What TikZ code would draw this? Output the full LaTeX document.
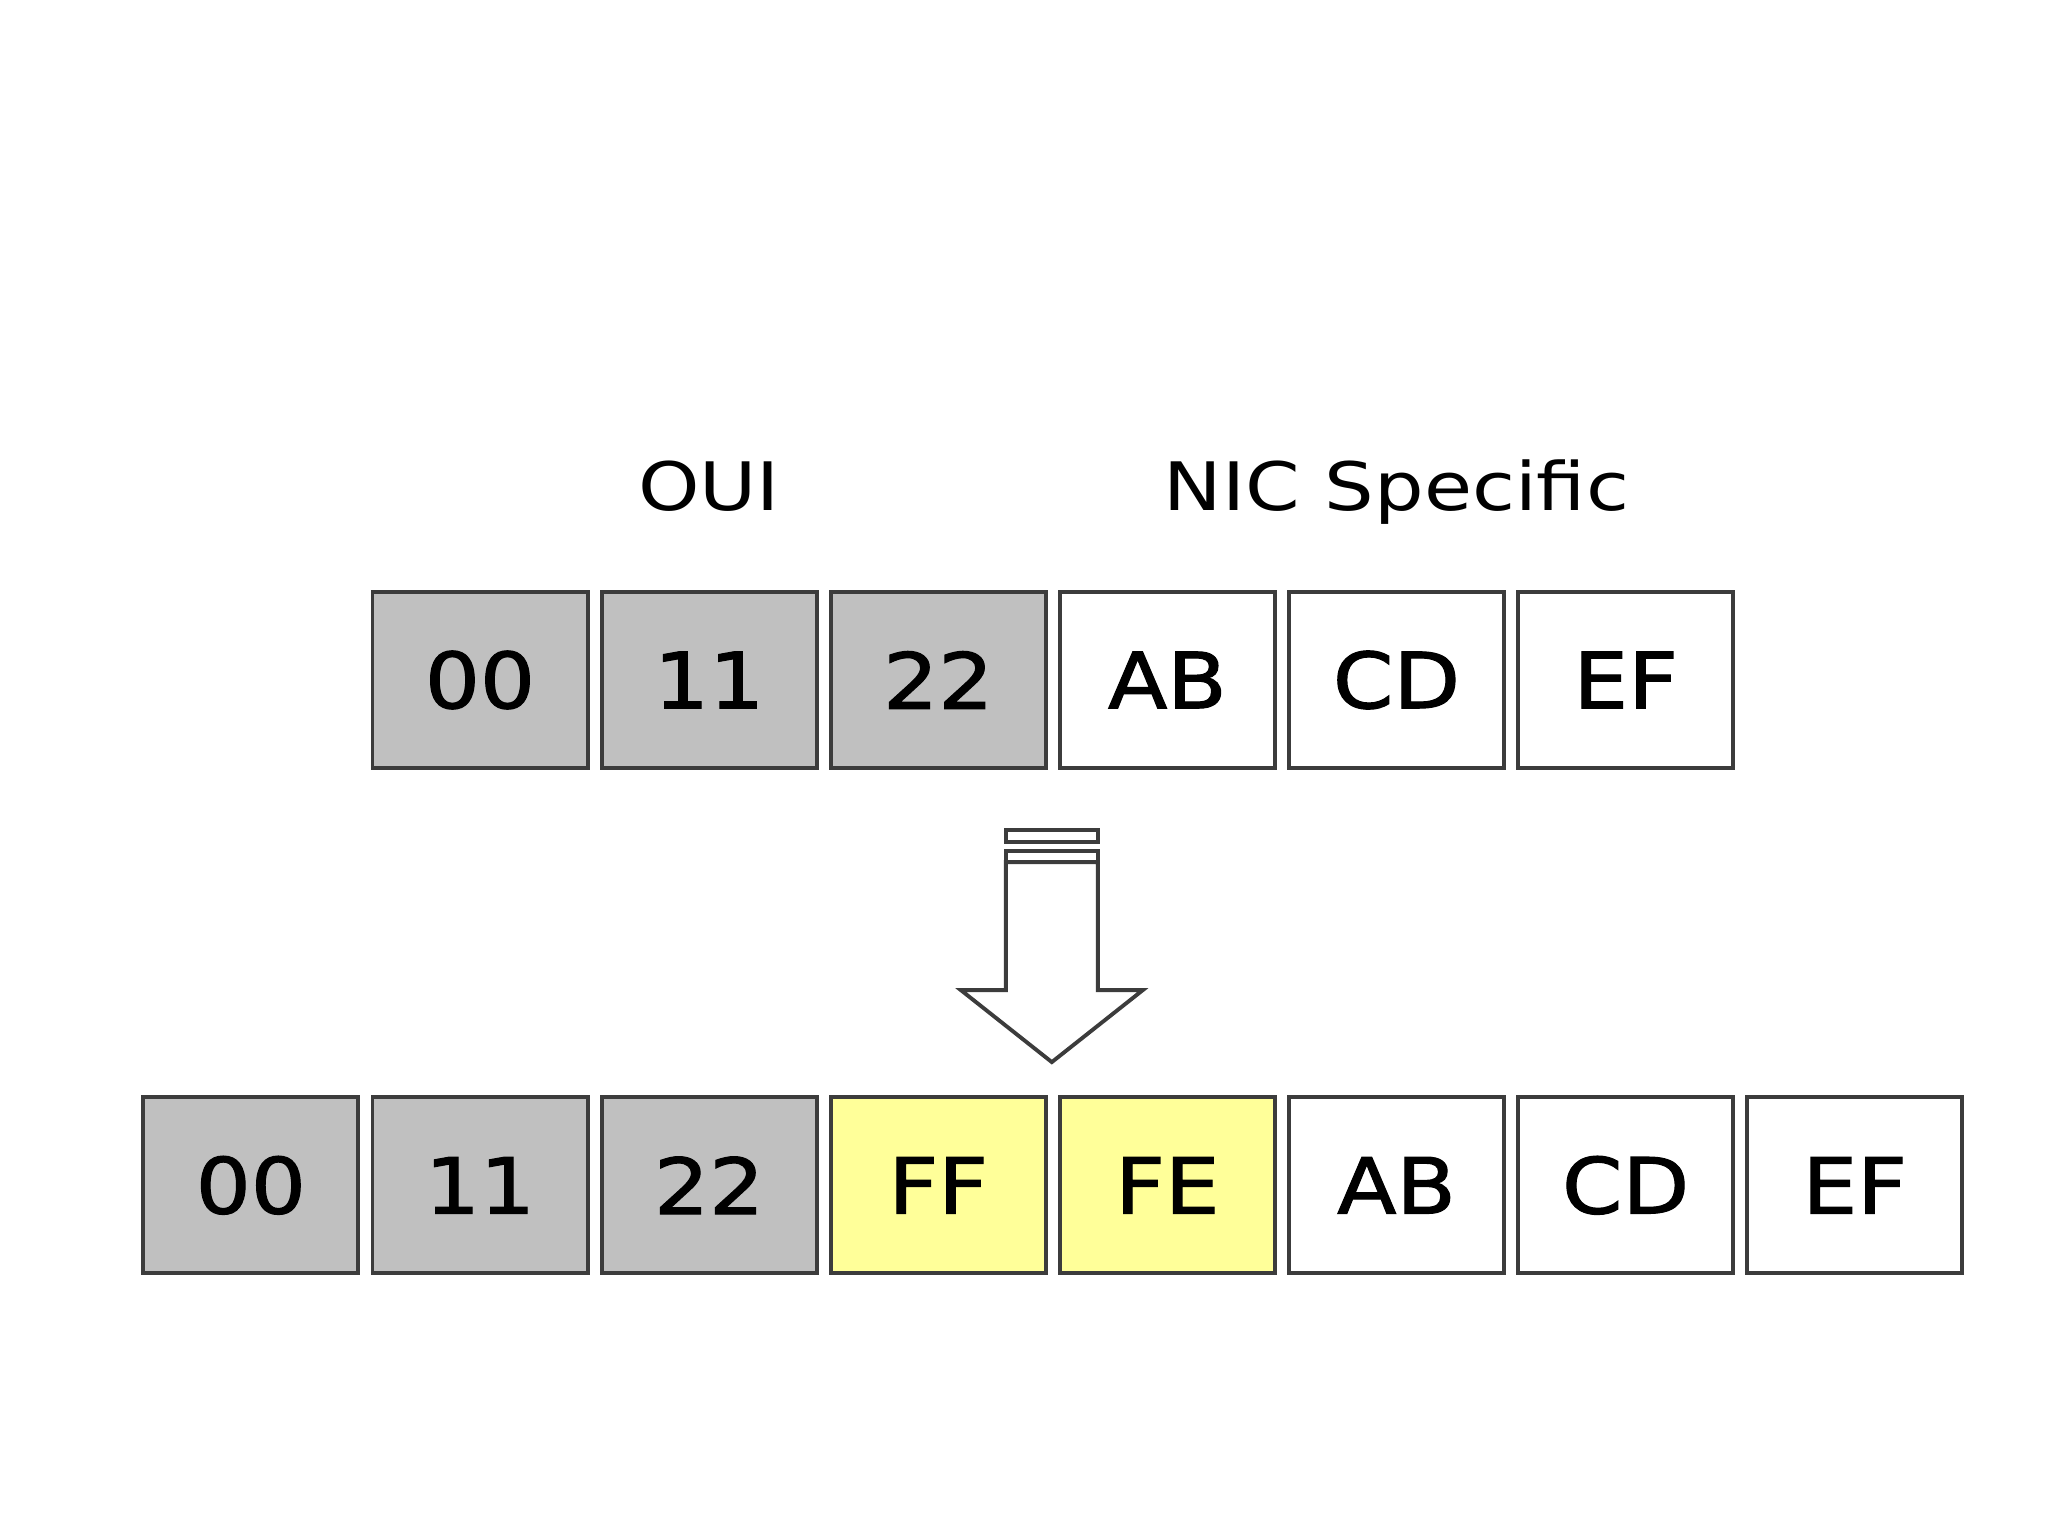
\documentclass[tikz,border=0pt]{standalone}
\usepackage{fontspec}
\usepackage{xcolor}
\usepackage{tikz}
\usetikzlibrary{positioning}
\newfontfamily\cellfont[FakeStretch=1.12, FakeBold=1.5]{DejaVu Sans}
\newfontfamily\labelfont[FakeStretch=1.17]{DejaVu Sans}
\definecolor{ouigray}{RGB}{192,192,192}
\definecolor{fillyellow}{RGB}{255,255,153}
\definecolor{cellline}{RGB}{60,60,60}

\begin{document}
\begin{tikzpicture}[x=0.01cm, y=0.01cm, node distance=0.14cm,
    cell/.style={draw=cellline, line width=1.1pt, minimum width=2.15cm, minimum height=1.76cm,
        inner sep=0pt, outer sep=0pt, font=\cellfont\fontsize{22}{26}\selectfont},
    ouicell/.style={cell, fill=ouigray},
    fffecell/.style={cell, fill=fillyellow},
    niccell/.style={cell, fill=white},
    fieldlabel/.style={font=\labelfont\fontsize{19}{23}\selectfont, anchor=base},
    arrowline/.style={draw=cellline, line width=1.1pt, fill=white}]
        \useasboundingbox (0,0) rectangle (2048,-1536);
        \node (t00) [ouicell] at (480,-680) {00};
        \node (t11) [ouicell, right=of t00] {11};
        \node (t22) [ouicell, right=of t11] {22};
        \node (tab) [niccell, right=of t22] {AB};
        \node (tcd) [niccell, right=of tab] {CD};
        \node (tef) [niccell, right=of tcd] {EF};
        \node (oui) [above=0.81cm of t11.north, fieldlabel] {OUI};
        \node (nic) [above=0.81cm of tcd.north, fieldlabel] {NIC Specific};
        \node (b11) [ouicell, below=3.29cm of t00] {11};
        \node (b00) [ouicell, left=of b11] {00};
        \node (b22) [ouicell, right=of b11] {22};
        \node (bff) [fffecell, right=of b22] {FF};
        \node (bfe) [fffecell, right=of bff] {FE};
        \node (bab) [niccell, right=of bfe] {AB};
        \node (bcd) [niccell, right=of bab] {CD};
        \node (bef) [niccell, right=of bcd] {EF};
        \coordinate [below=0.62cm of t22.south east, xshift=0.06cm] (arrtop);
        \begin{scope}[shift={(arrtop)}]
            \draw [arrowline] (-46,-32) -- (-46,-160) -- (-91,-160) -- (0,-232)
                -- (91,-160) -- (46,-160) -- (46,-32) -- cycle;
            \draw [arrowline] (-46,0) rectangle (46,-12);
            \draw [arrowline] (-46,-21) rectangle (46,-32);
        \end{scope}
    \end{tikzpicture}
\end{document}
